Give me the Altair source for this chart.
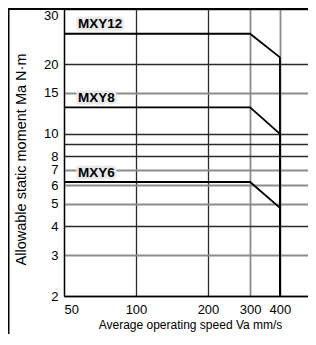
import altair as alt
import pandas as pd

# ---- data ----
speeds = [50, 300, 400, 400]
mxy12 = [25, 25, 21, 2]
mxy8 = [13, 13, 10, 2]
mxy6 = [6.2, 6.2, 4.8, 2]
series = ["MXY12", "MXY8", "MXY6"]
y_ticks = [2, 3, 4, 5, 6, 7, 8, 9, 10, 15, 20, 30]
x_ticks = [50, 100, 200, 300, 400]

rows = []
for name, vals in zip(series, [mxy12, mxy8, mxy6]):
    for i, (s, v) in enumerate(zip(speeds, vals)):
        rows.append({"series": name, "speed": s, "moment": v, "order": i})
df = pd.DataFrame(rows)
lab = pd.DataFrame({"series": series,
                    "speed": [speeds[0]] * len(series),
                    "moment": [mxy12[0], mxy8[0], mxy6[0]]})

BG = "#e8e9e8"
FONT = "Liberation Sans"
W, H = 244, 287

xscale = alt.Scale(type="log", domain=[50, 524], nice=False)
yscale = alt.Scale(type="log", domain=[2, 20, 30], range=[H, 55, 0], nice=False)

x_axis = alt.Axis(
    values=x_ticks, format="d", ticks=False, domainColor="black", domainWidth=1.3,
    gridColor={"condition": {"test": "datum.value >= 300", "value": "#8c8c8c"}, "value": "#2b2b2b"},
    gridWidth={"condition": {"test": "datum.value >= 300", "value": 1.8}, "value": 1.3},
    labelAlign={"condition": {"test": "datum.value == 50", "value": "left"}, "value": "center"},
    labelPadding=7, labelFontSize=13, labelFont=FONT, labelColor="black",
    title="Average operating speed Va mm/s", titleFont=FONT, titleFontSize=12,
    titleFontWeight="normal", titleColor="black",
    titleX=126, titleY=28, titleAlign="center", titleBaseline="middle",
)
y_axis = alt.Axis(
    values=y_ticks, format="d", ticks=False, domainColor="black", domainWidth=1.3,
    labelExpr="datum.value == 9 ? '' : datum.label",
    gridColor={"condition": {"test": "indexof([3,5,6,7,15], datum.value) >= 0", "value": "#8c8c8c"},
               "value": "#2b2b2b"},
    gridWidth={"condition": {"test": "indexof([3,5,6,7,15], datum.value) >= 0", "value": 1.8},
               "value": 1.3},
    labelBaseline={"condition": {"test": "datum.value == 30", "value": "top"}, "value": "middle"},
    labelPadding=6, labelFontSize=13, labelFont=FONT, labelColor="black",
    title="Allowable static moment Ma N·m", titleFont=FONT, titleFontSize=14.5,
    titleFontWeight="normal", titleColor="black",
    titleX=-43, titleY=150, titleAlign="center", titleBaseline="middle", titleAngle=270,
)

lines = alt.Chart(df).mark_line(color="black", strokeWidth=1.8).encode(
    x=alt.X("speed:Q", scale=xscale, axis=x_axis),
    y=alt.Y("moment:Q", scale=yscale, axis=y_axis),
    detail="series:N",
    order="order:Q",
)

halo = alt.Chart(lab).mark_text(
    align="left", baseline="middle", dx=14, dy=-9.5, font=FONT, fontSize=13.5,
    fontWeight="bold", color=BG, stroke=BG, strokeWidth=5, strokeJoin="round",
).encode(x="speed:Q", y="moment:Q", text="series:N")

labels = alt.Chart(lab).mark_text(
    align="left", baseline="middle", dx=14, dy=-9.5, font=FONT, fontSize=13.5,
    fontWeight="bold", color="black",
).encode(x="speed:Q", y="moment:Q", text="series:N")

top_frame = alt.Chart(lab).mark_rule(color="black", strokeWidth=1.3).encode(
    y=alt.datum(y_ticks[-1]), x=alt.value(-56), x2=alt.value(W)
)
left_frame = alt.Chart(lab).mark_rule(color="black", strokeWidth=1.2).encode(
    x=alt.value(-55.4), y=alt.value(0), y2=alt.value(H + 45)
)

chart = alt.layer(lines, halo, labels, top_frame, left_frame).properties(
    width=W, height=H,
    padding={"left": 56, "top": 1, "right": 0, "bottom": 38},
    autosize=alt.AutoSizeParams(type="none"),
).configure_view(strokeWidth=0, fill=BG).configure(background="white")

chart.save("out.html", embed_options={"renderer": "svg", "actions": False})
